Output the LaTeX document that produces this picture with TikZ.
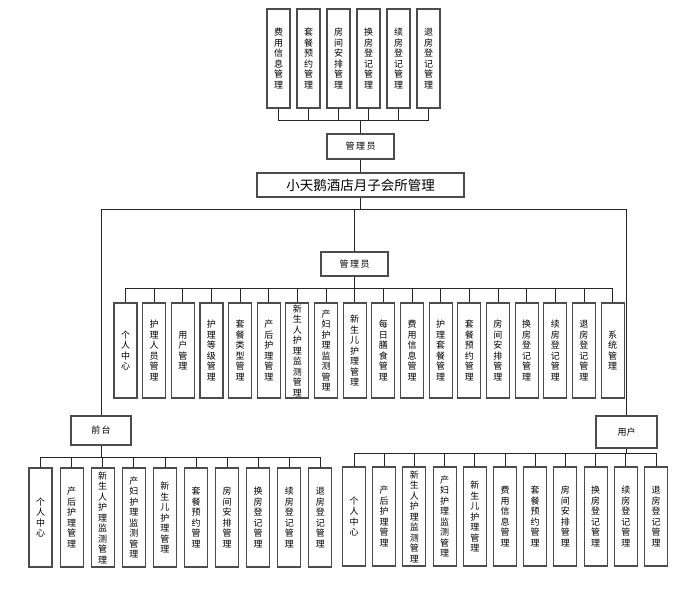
\documentclass[tikz,border=0pt]{standalone}
\usepackage{fontspec}
\newfontfamily\cjk{Noto Sans CJK SC}
\XeTeXlinebreaklocale "zh"
\XeTeXlinebreakskip=0pt plus 1pt
\tikzset{
  box/.style={draw=black!70, line width=1.1pt, fill=white, font=\cjk\fontsize{9}{10.5}\selectfont},
  vbox/.style={box, minimum width=23pt, minimum height=99pt, text width=9pt, align=center, inner sep=0pt},
  link/.style={draw=black!85, line width=0.8pt}
}
\begin{document}
\begin{tikzpicture}[x=1pt,y=-1pt]
\useasboundingbox (0,0) rectangle (695,589);

\foreach \lbl [count=\i from 0] in {费用信息管理,套餐预约管理,房间安排管理,换房登记管理,续房登记管理,退房登记管理}
  \node[vbox] (t\i) at (278.5+30*\i,58.5) {\lbl};
\node[box, minimum width=67pt, minimum height=25pt] (adm1) at (360.5,146.5) {管\,理\,员};
\node[box, minimum width=207pt, minimum height=24pt, font=\cjk\fontsize{13.5}{15}\selectfont] (title) at (360.5,185) {小天鹅酒店月子会所管理};
\node[box, minimum width=67pt, minimum height=24pt] (adm2) at (354.5,264) {管\,理\,员};
\node[box, minimum width=60pt, minimum height=29pt] (desk) at (101,430.5) {前\,台};
\node[box, minimum width=61pt, minimum height=32pt] (user) at (626.5,432) {用户};

\foreach \lbl [count=\i from 0] in {个人中心,护理人员管理,用户管理,护理等级管理,套餐类型管理,产后护理管理,新生人护理监测管理,产妇护理监测管理,新生儿护理管理,每日膳食管理,费用信息管理,护理套餐管理,套餐预约管理,房间安排管理,换房登记管理,续房登记管理,退房登记管理,系统管理}
  \node[vbox, minimum height=95pt] (m\i) at (125.5+28.65*\i,350.5) {\lbl};
\foreach \lbl [count=\i from 0] in {个人中心,产后护理管理,新生人护理监测管理,产妇护理监测管理,新生儿护理管理,套餐预约管理,房间安排管理,换房登记管理,续房登记管理,退房登记管理}
  \node[vbox] (f\i) at (40.5+31.1*\i,517.5) {\lbl};
\foreach \lbl [count=\i from 0] in {个人中心,产后护理管理,新生人护理监测管理,产妇护理监测管理,新生儿护理管理,费用信息管理,套餐预约管理,房间安排管理,换房登记管理,续房登记管理,退房登记管理}
  \node[vbox] (u\i) at (354+30.2*\i,516.5) {\lbl};

% buses
\coordinate (tbus) at (360.5,120);
\coordinate (hub) at (360.5,209);
\coordinate (mbus) at (354.5,288);
\coordinate (fbus) at (101,457);
\coordinate (ubus) at (626.5,453);

\foreach \i in {0,...,5}
  \draw[link] (t\i.south) -- (t\i.south |- tbus) -| (adm1.north);
\draw[link] (adm1) -- (title);
\draw[link] (title) -- (hub);
\foreach \n in {desk,user,adm2}
  \draw[link] (\n.north) |- (hub);
\foreach \i in {0,...,17}
  \draw[link] (m\i.north) -- (m\i.north |- mbus) -| (adm2.south);
\foreach \i in {0,...,9}
  \draw[link] (f\i.north) -- (f\i.north |- fbus) -| (desk.south);
\foreach \i in {0,...,10}
  \draw[link] (u\i.north) -- (u\i.north |- ubus) -| (user.south);
\end{tikzpicture}
\end{document}
